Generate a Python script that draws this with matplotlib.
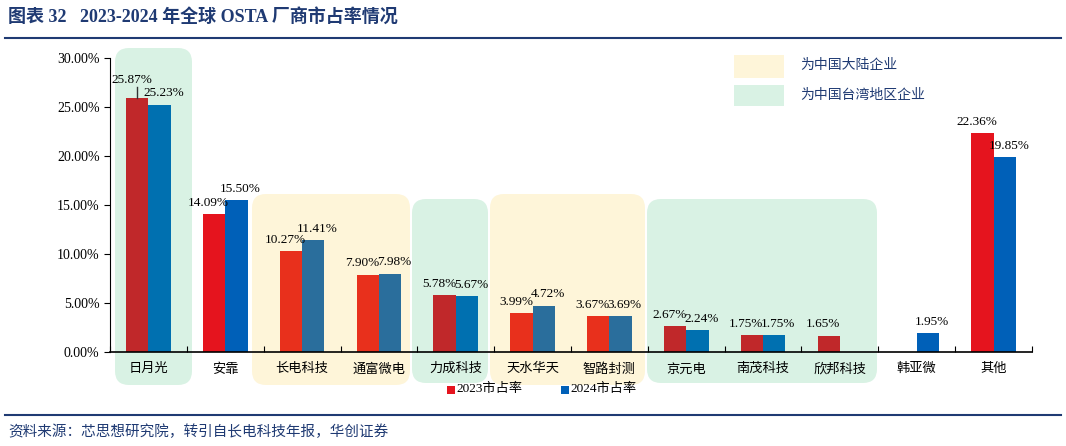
import matplotlib.pyplot as plt
from matplotlib.patches import FancyBboxPatch, Rectangle
import numpy as np

plt.rcParams['font.family'] = ['Liberation Serif', 'Noto Sans CJK SC']

companies = ['日月光', '安靠', '长电科技', '通富微电', '力成科技', '天水华天', '智路封测',
             '京元电', '南茂科技', '欣邦科技', '韩亚微', '其他']
share_2023 = [25.87, 14.09, 10.27, 7.90, 5.78, 3.99, 3.67, 2.67, 1.75, 1.65, np.nan, 22.36]
share_2024 = [25.23, 15.50, 11.41, 7.98, 5.67, 4.72, 3.69, 2.24, 1.75, np.nan, 1.95, 19.85]
# region: t = taiwan, m = mainland, o = other
region = ['t', 'o', 'm', 'm', 't', 'm', 'm', 't', 't', 't', 'o', 'o']

RED = {'t': '#C0282A', 'm': '#E8301C', 'o': '#E5141E'}
BLUE = {'t': '#0070B0', 'm': '#2A6E9C', 'o': '#0060B8'}
GREEN_BG = '#D9F2E4'
YELLOW_BG = '#FEF5D9'
NAVY = '#1F3A73'

fig = plt.figure(figsize=(10.66, 4.46), dpi=100)
ax = fig.add_axes([110 / 1066, 1 - 352 / 446, 922 / 1066, 294 / 446])
ax.set_zorder(5)
ax.patch.set_visible(False)
x = np.arange(len(companies))
w = 0.29
ax.set_xlim(-0.5, len(companies) - 0.5)
ax.set_ylim(0, 30)

# background rounded boxes (pixel coords, y from top)
def bgBox(x0, y0, x1, y1, color, r=14):
    fig.patches.append(FancyBboxPatch((x0 + r, 446 - y1 + r), x1 - x0 - 2 * r, y1 - y0 - 2 * r,
                                      boxstyle=f"round,pad={r}", transform=None,
                                      facecolor=color, edgecolor='none', zorder=0))

bgBox(115, 48, 192, 385, GREEN_BG)
bgBox(252, 194, 410, 385, YELLOW_BG)
bgBox(412, 199, 488, 383, GREEN_BG)
bgBox(490, 194, 645, 385, YELLOW_BG)
bgBox(647, 199, 877, 383, GREEN_BG)

for i in range(len(companies)):
    if not np.isnan(share_2023[i]):
        ax.bar(x[i] - w / 2, share_2023[i], w, color=RED[region[i]], zorder=2)
        ax.annotate(f"{share_2023[i]:.2f}%", (x[i] - w / 2, share_2023[i]), xytext=(-4, 11 if i == 0 else 6),
                    textcoords='offset points', ha='center', fontsize=9.5)
    if not np.isnan(share_2024[i]):
        ax.bar(x[i] + w / 2, share_2024[i], w, color=BLUE[region[i]], zorder=2)
        ax.annotate(f"{share_2024[i]:.2f}%", (x[i] + w / 2, share_2024[i]), xytext=(3, 6),
                    textcoords='offset points', ha='center', fontsize=9.5)
ax.plot([x[0] - w / 2] * 2, [share_2023[0], share_2023[0] + 1.2], color='#333333', lw=1, zorder=3)

ax.set_yticks(np.arange(0, 31, 5))
ax.set_yticklabels([f"{v:.2f}%" for v in np.arange(0, 31, 5)], fontsize=10)
ax.set_xticks(np.arange(-0.5, len(companies), 1), minor=False)
ax.set_xticklabels([])
ax.set_xticks(x, minor=True)
ax.set_xticklabels(companies, minor=True, fontsize=9.5)
ax.tick_params(axis='x', which='minor', length=0, pad=8)
ax.tick_params(axis='x', which='major', length=4, direction='in')
ax.tick_params(axis='y', length=4, direction='out')
for s in ['top', 'right']:
    ax.spines[s].set_visible(False)
ax.spines['bottom'].set_linewidth(1.2)

# group legend
fig.patches.append(Rectangle((734, 446 - 78), 50, 23, transform=None, facecolor=YELLOW_BG, edgecolor='none'))
fig.patches.append(Rectangle((734, 446 - 106), 50, 21, transform=None, facecolor=GREEN_BG, edgecolor='none'))
fig.text(800 / 1066, 1 - 65 / 446, '为中国大陆企业', fontsize=10, color=NAVY, va='center')
fig.text(800 / 1066, 1 - 95 / 446, '为中国台湾地区企业', fontsize=10, color=NAVY, va='center')

# series legend
fig.patches.append(Rectangle((447, 446 - 394), 8, 8, transform=None, facecolor='#E5141E'))
fig.text(456 / 1066, 1 - 389 / 446, '2023市占率', fontsize=9.5, va='center')
fig.patches.append(Rectangle((561, 446 - 394), 8, 8, transform=None, facecolor='#0060B8'))
fig.text(570 / 1066, 1 - 389 / 446, '2024市占率', fontsize=9.5, va='center')

fig.text(8 / 1066, 1 - 17 / 446, '图表 32   2023-2024 年全球 OSTA 厂商市占率情况', fontsize=13,
         fontweight='bold', color=NAVY, va='center')
fig.add_artist(plt.Line2D([0.005, 0.995], [1 - 38 / 446] * 2, color=NAVY, lw=1.5))
fig.add_artist(plt.Line2D([0.005, 0.995], [1 - 415 / 446] * 2, color=NAVY, lw=1.5))
fig.text(8 / 1066, 1 - 432 / 446, '资料来源：芯思想研究院，转引自长电科技年报，华创证券', fontsize=10.5,
         color=NAVY, va='center', style='italic')

fig.savefig('out.png', dpi=100)
